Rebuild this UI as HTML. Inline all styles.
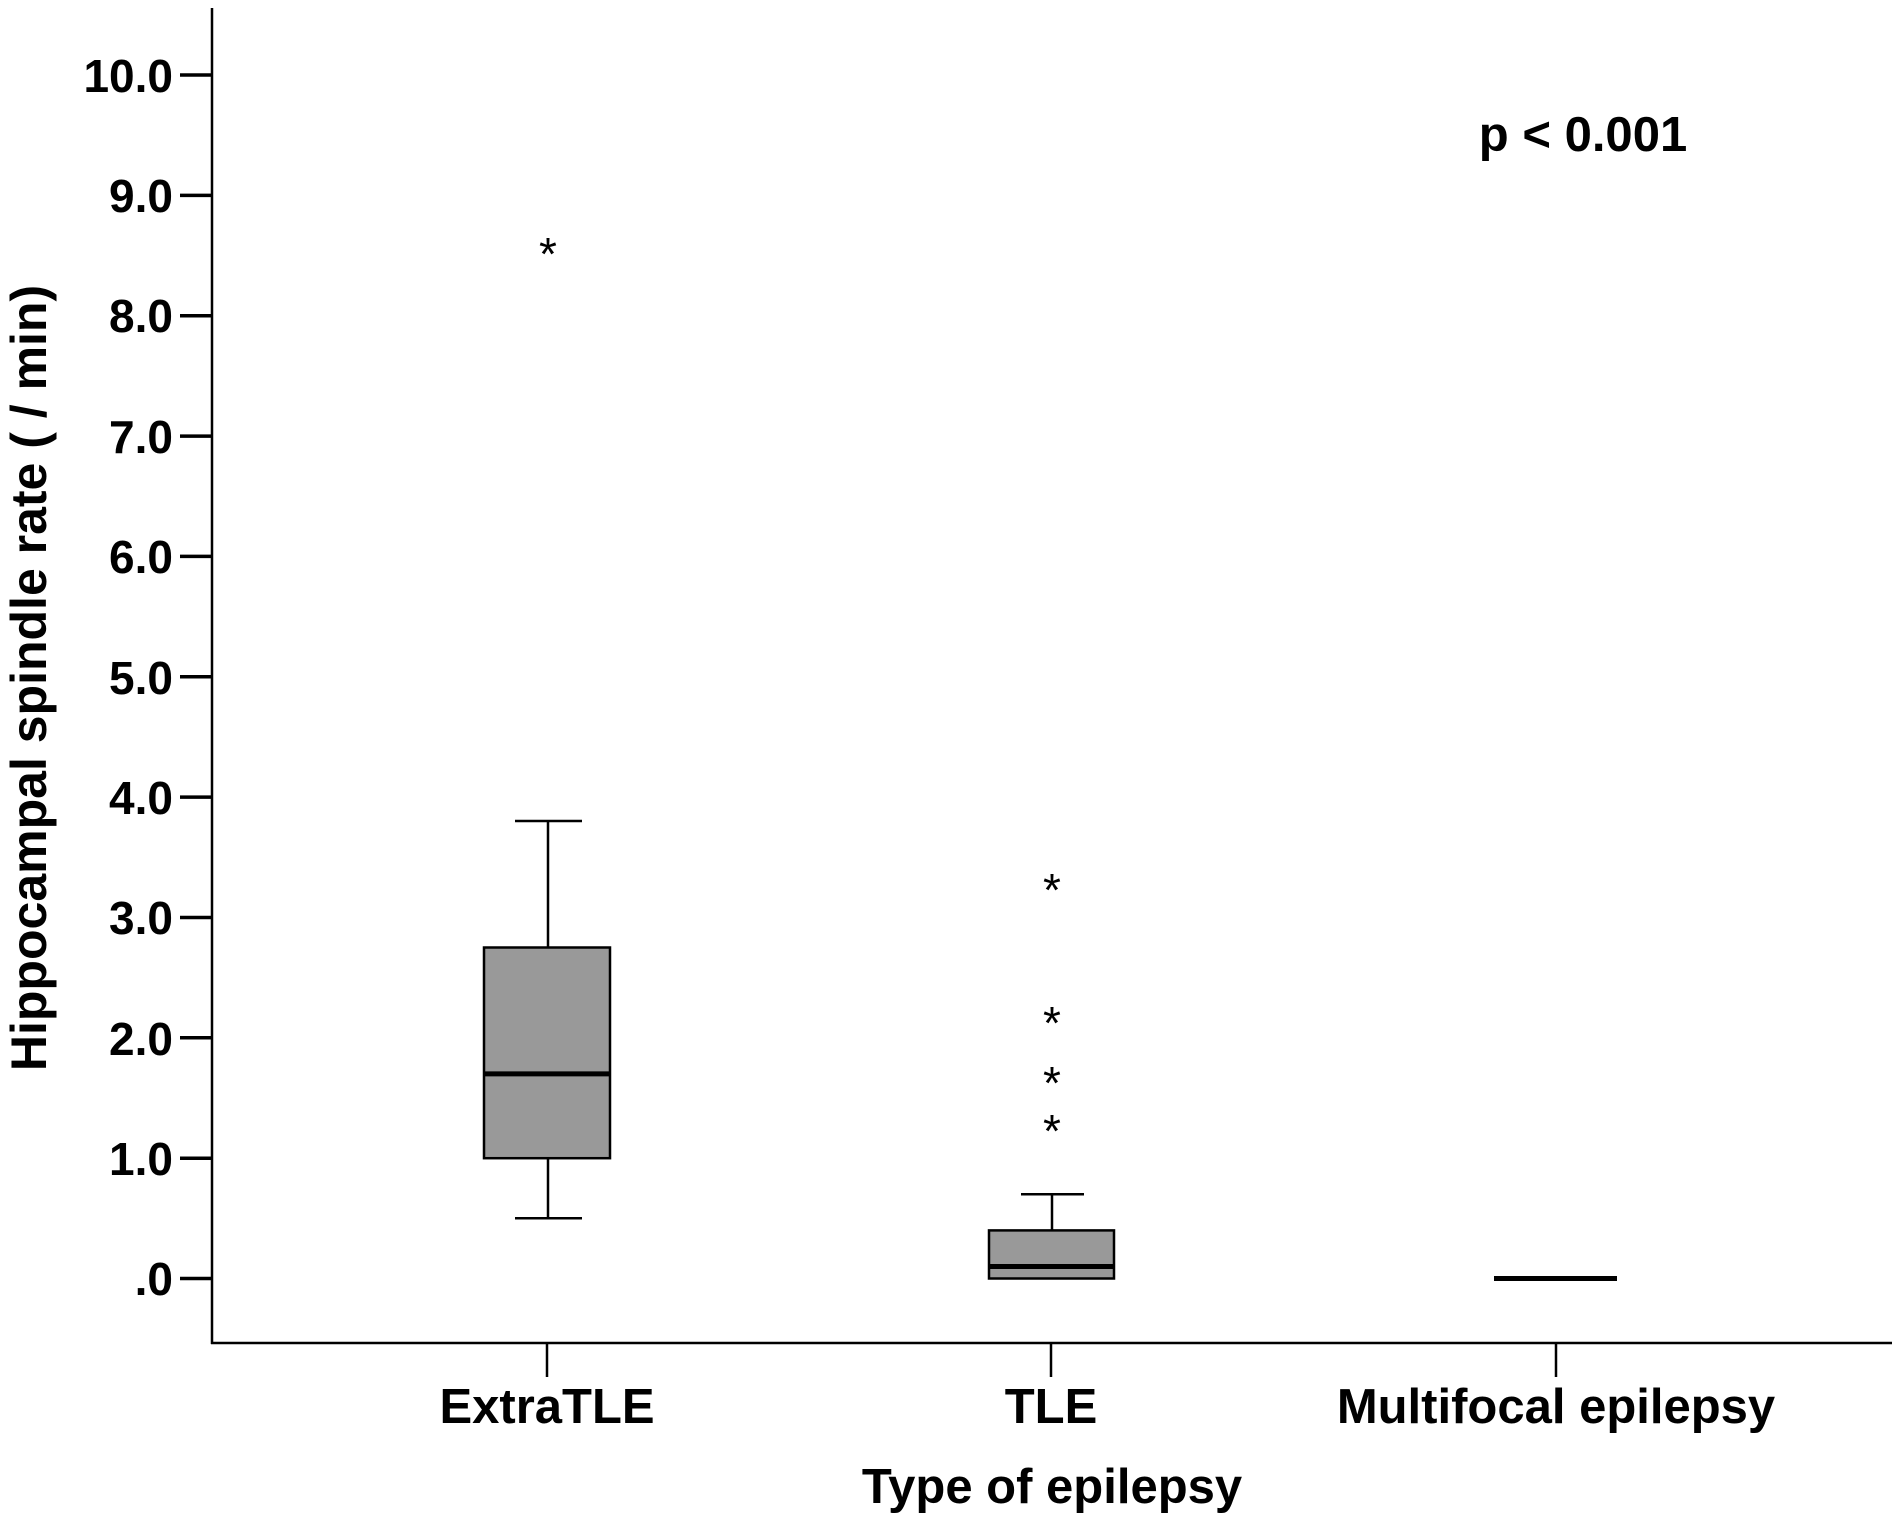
<!DOCTYPE html>
<html><head><style>
html,body{margin:0;padding:0;background:#fff;}
svg{display:block;}
text{font-family:"Liberation Sans",Arial,sans-serif;fill:#000;}
</style></head><body>
<svg width="1896" height="1520" viewBox="0 0 1896 1520" xmlns="http://www.w3.org/2000/svg">
<g stroke="#000" stroke-width="2.5" fill="none">
<line x1="212" y1="8" x2="212" y2="1344"/>
<line x1="211" y1="1343" x2="1892" y2="1343"/>
</g>
<g stroke="#000" stroke-width="3.5">
<line x1="180" y1="75" x2="212" y2="75"/>
<line x1="180" y1="195.4" x2="212" y2="195.4"/>
<line x1="180" y1="315.7" x2="212" y2="315.7"/>
<line x1="180" y1="436.1" x2="212" y2="436.1"/>
<line x1="180" y1="556.4" x2="212" y2="556.4"/>
<line x1="180" y1="676.8" x2="212" y2="676.8"/>
<line x1="180" y1="797.1" x2="212" y2="797.1"/>
<line x1="180" y1="917.5" x2="212" y2="917.5"/>
<line x1="180" y1="1037.8" x2="212" y2="1037.8"/>
<line x1="180" y1="1158.2" x2="212" y2="1158.2"/>
<line x1="180" y1="1278.5" x2="212" y2="1278.5"/>
</g>
<g stroke="#000" stroke-width="2.5">
<line x1="547" y1="1343" x2="547" y2="1377"/>
<line x1="1051" y1="1343" x2="1051" y2="1377"/>
<line x1="1556" y1="1343" x2="1556" y2="1377"/>
</g>
<g font-size="46" font-weight="bold" text-anchor="end">
<text x="173" y="92">10.0</text>
<text x="173" y="212">9.0</text>
<text x="173" y="332">8.0</text>
<text x="173" y="453">7.0</text>
<text x="173" y="573">6.0</text>
<text x="173" y="694">5.0</text>
<text x="173" y="814">4.0</text>
<text x="173" y="934">3.0</text>
<text x="173" y="1055">2.0</text>
<text x="173" y="1175">1.0</text>
<text x="173" y="1295">.0</text>
</g>
<g font-size="49" font-weight="bold" text-anchor="middle">
<text x="547" y="1423">ExtraTLE</text>
<text x="1051" y="1423">TLE</text>
<text x="1556" y="1423">Multifocal epilepsy</text>
<text x="1052" y="1503">Type of epilepsy</text>
<text transform="translate(46,678) rotate(-90)" font-size="50">Hippocampal spindle rate ( / min)</text>
<text x="1583" y="151">p &lt; 0.001</text>
</g>
<!-- ExtraTLE -->
<g stroke="#000" stroke-width="2.5">
<line x1="548" y1="821" x2="548" y2="947.5"/>
<line x1="548" y1="1158.2" x2="548" y2="1218.3"/>
<line x1="515" y1="821" x2="582" y2="821"/>
<line x1="515" y1="1218.3" x2="582" y2="1218.3"/>
<rect x="484" y="947.5" width="126" height="210.7" fill="#999"/>
</g>
<line x1="484" y1="1073.9" x2="610" y2="1073.9" stroke="#000" stroke-width="5"/>
<!-- TLE -->
<g stroke="#000" stroke-width="2.5">
<line x1="1052" y1="1194.3" x2="1052" y2="1230.4"/>
<line x1="1021" y1="1194.3" x2="1084" y2="1194.3"/>
<rect x="989" y="1230.4" width="125" height="48.1" fill="#999"/>
</g>
<line x1="989" y1="1266.5" x2="1114" y2="1266.5" stroke="#000" stroke-width="5"/>
<!-- Multifocal -->
<line x1="1494" y1="1278.5" x2="1617" y2="1278.5" stroke="#000" stroke-width="5"/>
<g font-size="46" text-anchor="middle">
<text x="548" y="270">*</text>
<text x="1052" y="906">*</text>
<text x="1052" y="1039">*</text>
<text x="1052" y="1099">*</text>
<text x="1052" y="1147">*</text>
</g>
</svg>
</body></html>
